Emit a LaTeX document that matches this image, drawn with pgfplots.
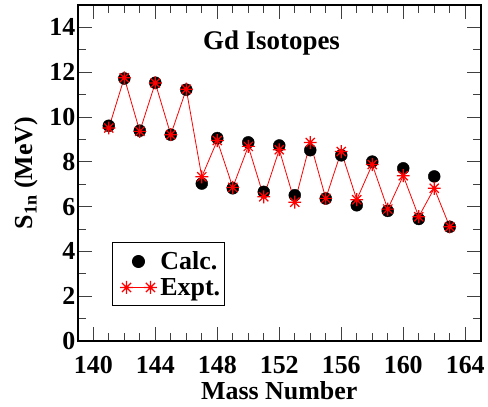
\documentclass[border=0pt]{standalone}
\usepackage{fontspec}
\setmainfont{Liberation Serif}
\usepackage{pgfplots}
\usepackage{pgfplotstable}
\pgfplotsset{compat=1.18}

% 8-armed star (plus and cross), as in the original plot
\pgfdeclareplotmark{star8}{%
  \pgfpathmoveto{\pgfqpoint{-\pgfplotmarksize}{0pt}}%
  \pgfpathlineto{\pgfqpoint{\pgfplotmarksize}{0pt}}%
  \pgfpathmoveto{\pgfqpoint{0pt}{-\pgfplotmarksize}}%
  \pgfpathlineto{\pgfqpoint{0pt}{\pgfplotmarksize}}%
  \pgfpathmoveto{\pgfqpoint{-0.707\pgfplotmarksize}{-0.707\pgfplotmarksize}}%
  \pgfpathlineto{\pgfqpoint{0.707\pgfplotmarksize}{0.707\pgfplotmarksize}}%
  \pgfpathmoveto{\pgfqpoint{-0.707\pgfplotmarksize}{0.707\pgfplotmarksize}}%
  \pgfpathlineto{\pgfqpoint{0.707\pgfplotmarksize}{-0.707\pgfplotmarksize}}%
  \pgfusepathqstroke}

\pgfplotsset{
  calclegend/.style={legend image code/.code={%
      \path[draw=none, fill=none] (0pt,0pt) rectangle (44pt,0.1pt);
      \fill[black] (24pt,0pt) circle (6pt);}},
  exptlegend/.style={legend image code/.code={%
      \path[draw=none, fill=none] (0pt,0pt) rectangle (44pt,0.1pt);
      \draw[##1] plot coordinates {(12pt,0pt) (36pt,0pt)};}},
}

\pgfplotstableread{
A    S
141  9.61
142  11.72
143  9.39
144  11.53
145  9.21
146  11.22
147  7.03
148  9.06
149  6.82
150  8.87
151  6.66
152  8.73
153  6.51
154  8.52
155  6.36
156  8.29
157  6.06
158  8.01
159  5.81
160  7.71
161  5.45
162  7.35
163  5.10
}\calc

\pgfplotstableread{
A    S
141  9.51
142  11.75
143  9.36
144  11.52
145  9.21
146  11.24
147  7.33
148  8.95
149  6.86
150  8.69
151  6.44
152  8.54
153  6.20
154  8.86
155  6.37
156  8.46
157  6.31
158  7.88
159  5.89
160  7.38
161  5.55
162  6.82
163  5.10
}\expt

\begin{document}
\begin{tikzpicture}
\begin{axis}[
    scale only axis,
    width=404pt, height=337pt,
    xmin=139, xmax=165,
    ymin=0, ymax=15,
    xtick={140,144,...,164},
    ytick={0,2,...,14},
    minor x tick num=3,
    minor y tick num=1,
    tick pos=both,
    tick align=inside,
    major tick length=14pt,
    minor tick length=8pt,
    every tick/.style={black!75, line width=1pt},
    axis line style={line width=1.8pt},
    /pgf/number format/assume math mode=true,
    /pgf/number format/1000 sep={},
    tick label style={font=\fontsize{26}{28}\selectfont\bfseries},
    xticklabel style={yshift=-12pt},
    yticklabel style={xshift=1pt},
    label style={font=\fontsize{26}{28}\selectfont\bfseries},
    xlabel={Mass Number},
    ylabel={S\textsubscript{1n} (MeV)},
    xlabel style={yshift=-1pt},
    ylabel style={yshift=4pt},
    legend style={at={(0.085,0.294)}, anchor=north west,
        draw=black, line width=1pt,
        font=\fontsize{26}{28}\selectfont\bfseries,
        inner xsep=2pt, inner ysep=7pt, row sep=3pt},
    legend cell align=left,
]
\addplot[only marks, mark=*, mark size=6pt, black, calclegend]
    table[x=A, y=S] {\calc};
\addlegendentry{Calc.}
\addplot[red, line width=0.8pt, mark=star8, mark size=6.5pt,
    mark options={line width=1.2pt}, exptlegend]
    table[x=A, y=S] {\expt};
\addlegendentry{Expt.}
\node[font=\fontsize{27}{29}\selectfont\bfseries] at (axis cs:151.5,13.3) {Gd Isotopes};
\end{axis}
\path ([xshift=-78pt,yshift=-66pt]current axis.south west) rectangle ([xshift=6pt,yshift=5pt]current axis.north east);
\end{tikzpicture}
\end{document}
